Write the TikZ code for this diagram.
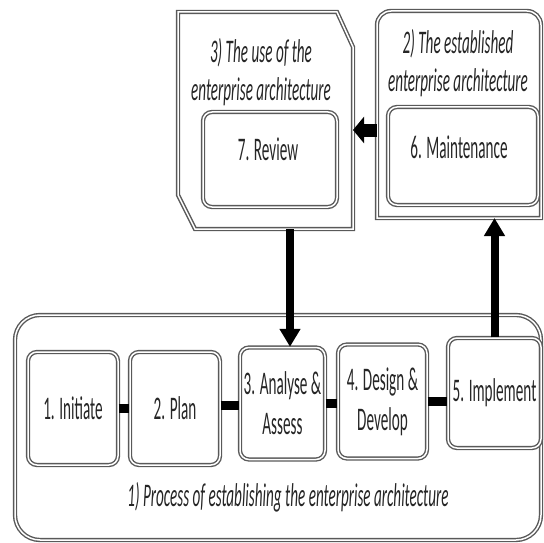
\documentclass[tikz,border=0pt]{standalone}
\usepackage{fontspec}
\setmainfont{Carlito}[FakeStretch=0.46]
\usetikzlibrary{arrows.meta,calc}
\begin{document}
\begin{tikzpicture}[x=1pt,y=-1pt,
  dbl/.style={draw=black!65, double=white, double distance=1.5pt, line width=1.4pt},
  pbox/.style={dbl, rounded corners=9pt, inner sep=0pt, align=center,
    font=\fontsize{33}{40}\selectfont, text=black!85},
  ttl/.style={font=\fontsize{33}{38}\selectfont\itshape, align=center, text=black!85},
  lbl/.style={font=\fontsize{33}{40}\selectfont, align=center, text=black!85},
  conn/.style={line width=9pt},
  varrow/.style={line width=8pt, -{Triangle[length=18pt,width=20pt]}},
  harrow/.style={line width=13pt, -{Triangle[length=11pt,width=26pt]}},
]
\useasboundingbox (0,0) rectangle (544,543);

% outer containers
\draw[dbl] (178,12) -- (337,12) -- (353,47) -- (353,229) -- (195,229) -- (178,195) -- cycle;
\draw[dbl] (377,218) [rounded corners=14pt] -- (377,11) -- (541,11) [sharp corners] -- (541,218) -- cycle;
\draw[dbl, rounded corners=25pt] (15,315) rectangle (541,540);

\coordinate (Lbot) at (290,229);
\coordinate (Lright) at (353,130);
\coordinate (Rleft) at (377,130);
\coordinate (Rbot) at (495,218);

% titles
\node[ttl] (tuse) at (261,72) {3) The use of the\\enterprise architecture};
\node[ttl] (test) at (458,63) {2) The established\\enterprise architecture};
\node[ttl] (tproc) at (288,497) {1) Process of establishing the enterprise architecture};

% inner boxes
\node[pbox, minimum width=134pt, minimum height=95pt] (review) at (270,159.5) {};
\node[lbl] (reviewt) at (268,149) {7. Review};
\node[pbox, minimum width=150pt, minimum height=98pt] (maint) at (463,156) {};
\node[lbl] (maintt) at (459,147) {6. Maintenance};

\node[pbox, minimum width=90pt, minimum height=113pt] (b1) at (73,408.5) {1. Initiate};
\node[pbox, minimum width=90pt, minimum height=113pt] (b2) at (175,408.5) {2. Plan};
\node[pbox, minimum width=85pt, minimum height=112pt] (b3) at (282.5,403.5) {3. Analyse \&\\Assess};
\node[pbox, minimum width=89pt, minimum height=114pt] (b4) at (382.5,401.5) {4. Design \&\\Develop};
\node[pbox, minimum width=93pt, minimum height=110pt] (b5) at (494.5,393) {5. Implement};

% connectors
\draw[conn] (b1.east) -- (b2.west);
\draw[conn] ([yshift=3pt]b2.east) -- ([yshift=3pt]b2.east -| b3.west);
\draw[conn] (b3.east) -- (b3.east -| b4.west);
\draw[conn] (b4.east) -- (b4.east -| b5.west);

% arrows
\draw[varrow] (Lbot) -- (Lbot |- b3.north);
\draw[varrow] (b5.north) -- (b5.north |- Rbot);
\draw[harrow] (Rleft) -- (Lright);
\end{tikzpicture}
\end{document}
